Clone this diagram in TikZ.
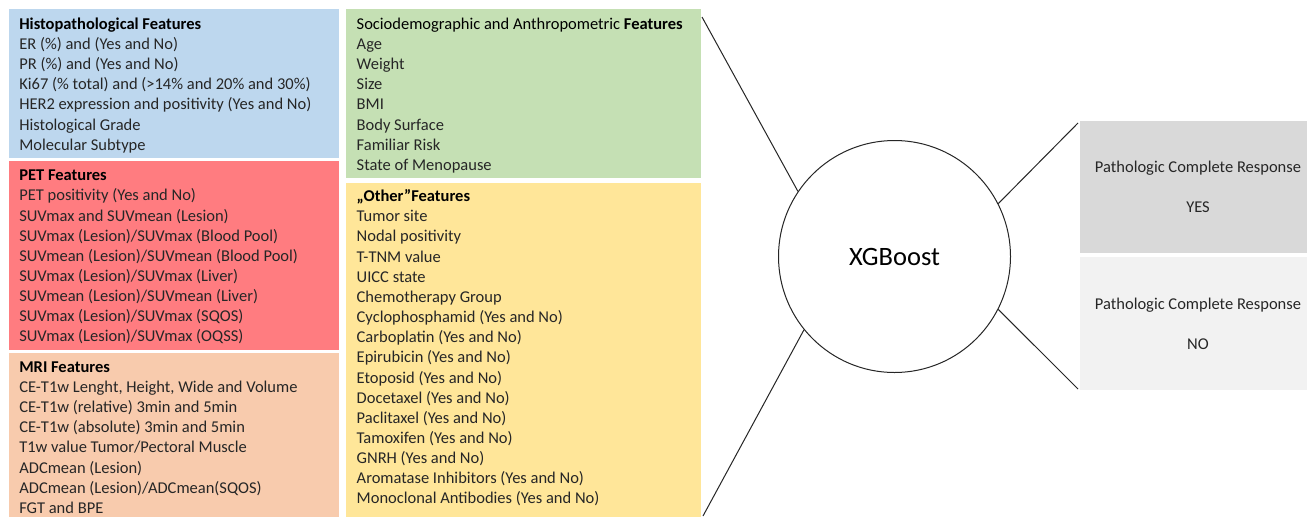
\documentclass[tikz,border=0pt]{standalone}
\usepackage{fontspec}
\setmainfont{Carlito}
\definecolor{cblue}{HTML}{BDD7EE}
\definecolor{cred}{HTML}{FF7C80}
\definecolor{cpeach}{HTML}{F8CBAD}
\definecolor{cgreen}{HTML}{C5E0B4}
\definecolor{cyellow}{HTML}{FFE699}
\definecolor{cdgray}{HTML}{D9D9D9}
\definecolor{clgray}{HTML}{F2F2F2}
\definecolor{bodytext}{HTML}{262626}
\begin{document}
\begin{tikzpicture}[x=1pt,y=-1pt,
  panel/.style={draw=none, inner sep=0pt, outer sep=0pt, anchor=north west},
  feat/.style={anchor=base west, align=left, inner sep=0pt, outer sep=0pt,
    font=\fontsize{16.5}{20.15}\selectfont, text=bodytext},
  outcome/.style={panel, minimum width=236pt, minimum height=132pt, align=center,
    font=\fontsize{16.5}{40}\selectfont, text=bodytext},
  conn/.style={line width=1pt, black!85},
  model/.style={circle, draw=black!85, line width=1pt, minimum size=232pt, inner sep=0pt,
    font=\fontsize{26.5}{30}\selectfont}
]
\useasboundingbox (0,0) rectangle (1307,517);
\fill[white] (0,0) rectangle (1307,517);

% left column
\node[panel, fill=cblue, minimum width=330.3pt, minimum height=148.7pt] (blue) at (8.7,9.3) {};
\node[panel, fill=cred, minimum width=330.3pt, minimum height=189pt] (red) at (8.7,161) {};
\node[panel, fill=cpeach, minimum width=330.3pt, minimum height=164pt] (peach) at (8.7,353) {};
% middle column
\node[panel, fill=cgreen, minimum width=355pt, minimum height=169pt] (green) at (346,9) {};
\node[panel, fill=cyellow, minimum width=355pt, minimum height=334pt] (yellow) at (346,183) {};

% texts (anchored at the baseline of their last line)
\node[feat] (blueT) at (19.3,150.2) {\textbf{\color{black}Histopathological Features}\\
ER (\%) and (Yes and No)\\
PR (\%) and (Yes and No)\\
Ki67 (\% total) and (>14\% and 20\% and 30\%)\\
HER2 expression and positivity (Yes and No)\\
Histological Grade\\
Molecular Subtype};

\node[feat] (redT) at (19.3,341.9) {\textbf{\color{black}PET Features}\\
PET positivity (Yes and No)\\
SUVmax and SUVmean (Lesion)\\
SUVmax (Lesion)/SUVmax (Blood Pool)\\
SUVmean (Lesion)/SUVmean (Blood Pool)\\
SUVmax (Lesion)/SUVmax (Liver)\\
SUVmean (Lesion)/SUVmean (Liver)\\
SUVmax (Lesion)/SUVmax (SQOS)\\
SUVmax (Lesion)/SUVmax (OQSS)};

\node[feat] (peachT) at (19.3,513.4) {\textbf{\color{black}MRI Features}\\
CE-T1w Lenght, Height, Wide and Volume\\
CE-T1w (relative) 3min and 5min\\
CE-T1w (absolute) 3min and 5min\\
T1w value Tumor/Pectoral Muscle\\
ADCmean (Lesion)\\
ADCmean (Lesion)/ADCmean(SQOS)\\
FGT and BPE};

\node[feat] (greenT) at (356.7,170.4) {{\color{black}Sociodemographic and Anthropometric \textbf{Features}}\\
Age\\
Weight\\
Size\\
BMI\\
Body Surface\\
Familiar Risk\\
State of Menopause};

\node[feat] (yellowT) at (356.7,503.9) {\textbf{\color{black}„Other”Features}\\
Tumor site\\
Nodal positivity\\
T-TNM value\\
UICC state\\
Chemotherapy Group\\
Cyclophosphamid (Yes and No)\\
Carboplatin (Yes and No)\\
Epirubicin (Yes and No)\\
Etoposid (Yes and No)\\
Docetaxel (Yes and No)\\
Paclitaxel (Yes and No)\\
Tamoxifen (Yes and No)\\
GNRH (Yes and No)\\
Aromatase Inhibitors (Yes and No)\\
Monoclonal Antibodies (Yes and No)};

% model
\node[model] (xg) at (894.5,256.5) {XGBoost};

% outcomes
\node[outcome, fill=cdgray] (yes) at (1080,121) {Pathologic Complete Response\\YES};
\node[outcome, fill=clgray, minimum height=133pt] (no) at (1080,257) {Pathologic Complete Response\\NO};

% connectors
\coordinate (gTR) at (702,17);
\coordinate (yBR) at (703,516);
\coordinate (yesL) at (1078,123);
\coordinate (noL) at (1078,389);
\draw[conn] (gTR) -- (xg.146.5);
\draw[conn] (yBR) -- (xg.219.4);
\draw[conn] (xg.27.5) -- (yesL);
\draw[conn] (xg.-27.3) -- (noL);
\end{tikzpicture}
\end{document}
